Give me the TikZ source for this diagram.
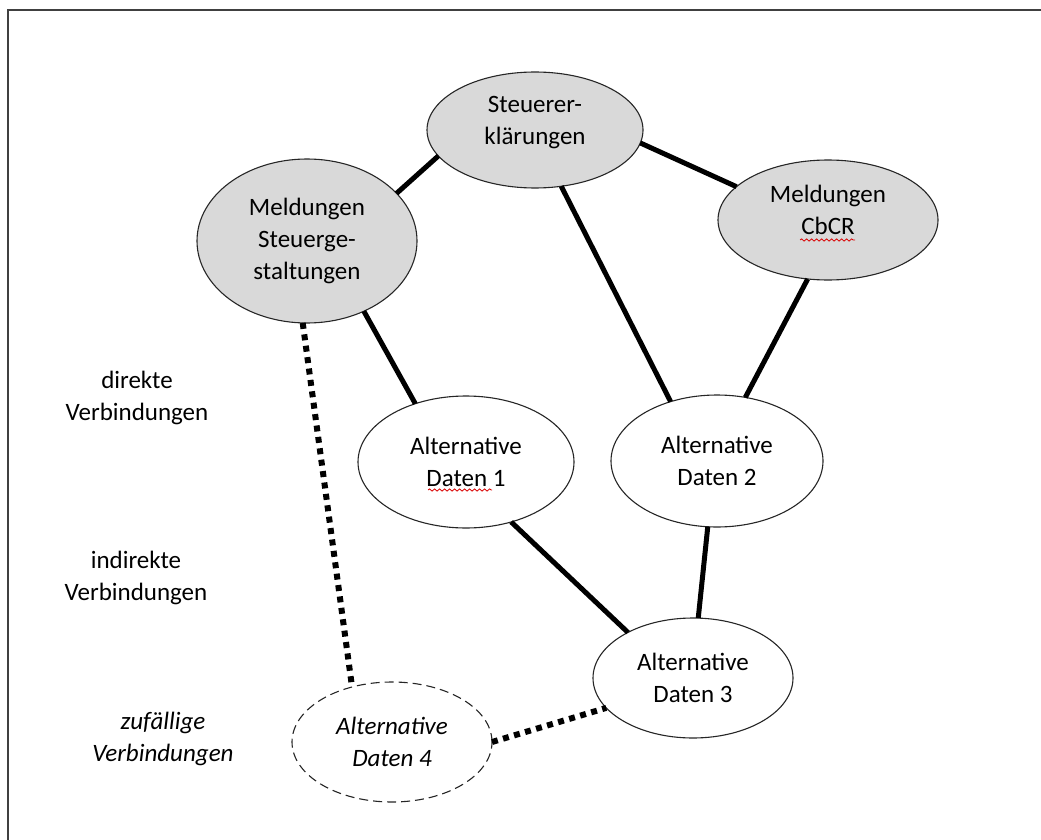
\documentclass[tikz,border=0pt]{standalone}
\usepackage{fontspec}
\setmainfont{Carlito}
\usetikzlibrary{shapes.geometric,calc,decorations.pathmorphing}

\begin{document}
\begin{tikzpicture}[x=1pt,y=-1pt,
  txt/.style={align=center,font=\fontsize{25}{32}\selectfont},
  bubble/.style={txt,ellipse,draw=black!85,line width=1.1pt,inner sep=0pt,outer sep=0pt},
  shaded/.style={bubble,fill=black!15},
  plain/.style={bubble,fill=white},
  vague/.style={bubble,fill=white,dash pattern=on 9pt off 5pt,
    font=\fontsize{25}{32}\selectfont\itshape},
  link/.style={line width=5pt,black},
  hint/.style={line width=6pt,black,line cap=butt,dash pattern=on 6pt off 5.5pt},
  squiggle/.style={red!85!black,line width=0.8pt,decorate,
    decoration={snake,amplitude=1.1pt,segment length=5pt}}
]
\useasboundingbox (0,0) rectangle (1041,840);
\fill[white] (0,0) rectangle (1041,840);
% surrounding frame
\draw[line width=2pt,black!75] (8,10) rectangle (1100,900);

% nodes
\node[shaded,minimum width=216,minimum height=116,text depth=18.5pt] (se) at (535,130) {Steuerer-\\klärungen};
\node[shaded,minimum width=220,minimum height=164] (ms) at (307,241) {Meldungen\\Steuerge-\\staltungen};
\node[shaded,minimum width=220,minimum height=120,text depth=19.5pt] (cb) at (828,220) {Meldungen\\CbCR};
\node[plain,minimum width=216,minimum height=132] (ad1) at (466,462) {Alternative\\Daten 1};
\node[plain,minimum width=212,minimum height=132] (ad2) at (717,461) {Alternative\\Daten 2};
\node[plain,minimum width=200,minimum height=120] (ad3) at (693,678) {Alternative\\Daten 3};
\node[vague,minimum width=200,minimum height=120] (ad4) at (392,742) {Alternative\\Daten 4};

% legend
\node[txt] (ldir) at (137,398) {direkte\\Verbindungen};
\node[txt] (lind) at (136,578) {indirekte\\Verbindungen};
\node[txt,font=\fontsize{25}{32}\selectfont\itshape] (lzuf) at (163,739) {zufällige\\Verbindungen};

% direct links
\draw[link] (ms.28) -- (se.195);
\draw[link] (se.-7) -- (cb.160);
\draw[link] (se.-65) -- (ad2.128);
\draw[link] (ms.-51) -- (ad1.131);
\draw[link] (cb.-109) -- (ad2.66);
\draw[link] (ad1.-53) -- (ad3.145);
\draw[link] (ad2.-98) -- (ad3.85);

% random links
\draw[hint] (ms.-93) -- (ad4.126);
\draw[hint] (ad4.0) -- (ad3.199);

% spell-check marks
\draw[squiggle] ($(ad1.center)+(-38,28)$) -- ++(64,0);
\draw[squiggle] ($(cb.center)+(-28,20)$) -- ++(55,0);
\end{tikzpicture}
\end{document}
